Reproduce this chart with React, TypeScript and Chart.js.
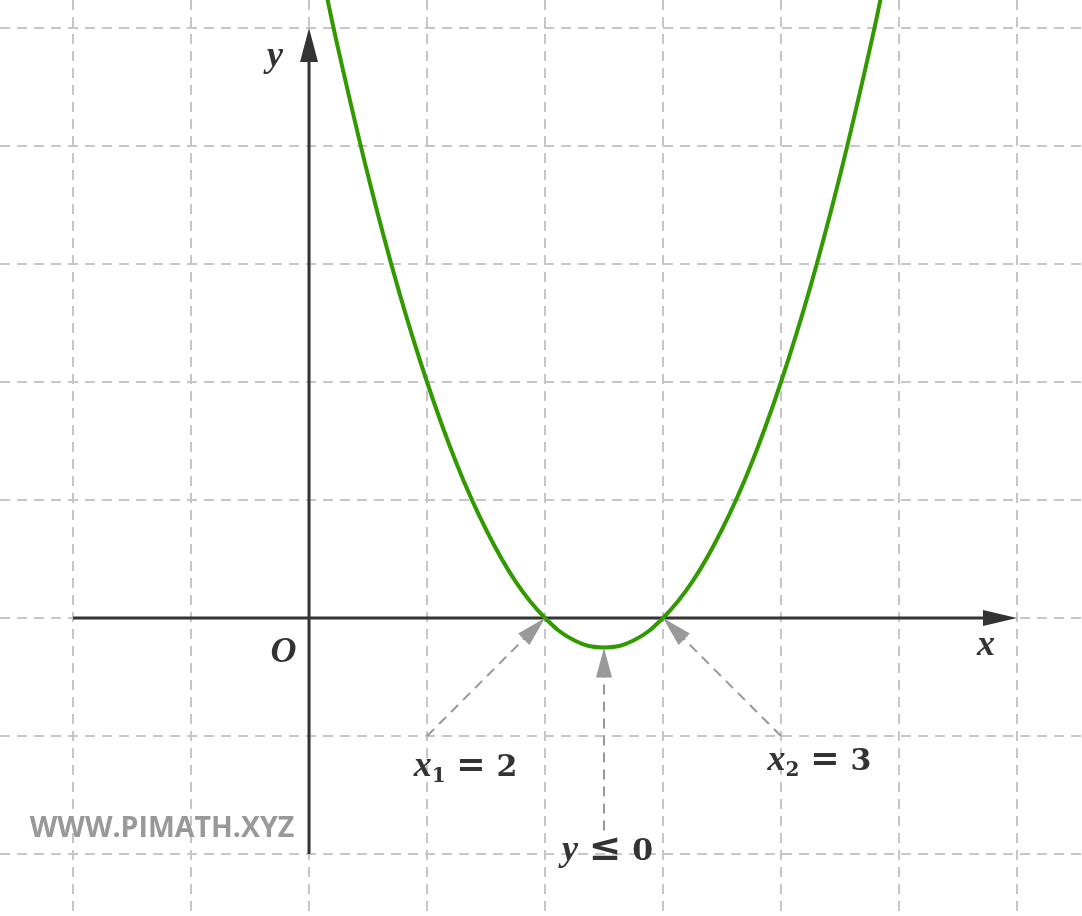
import { useEffect, useRef } from "react"
import { Chart, registerables } from "chart.js"

Chart.register(...registerables)

// parabola (roots at 2 and 3, vertex at 2.5 / -0.25)
const curveX = [0.1, 0.25, 0.5, 0.75, 1, 1.25, 1.5, 1.75, 2, 2.25, 2.5, 2.75, 3, 3.25, 3.5, 3.75, 4, 4.25, 4.5, 4.75, 4.9]
const curveY = [5.51, 4.81, 3.75, 2.81, 2, 1.31, 0.75, 0.31, 0, -0.19, -0.25, -0.19, 0, 0.31, 0.75, 1.31, 2, 2.81, 3.75, 4.81, 5.51]

// grid ticks and visible range
const gridX = [-2, -1, 0, 1, 2, 3, 4, 5, 6]
const gridY = [-2, -1, 0, 1, 2, 3, 4, 5]
const xRange = [-2.619, 6.551]
const yRange = [-2.525, 5.237]

// axes: from .. to (arrow at the end)
const xAxisSpan = [-2, 6]
const yAxisSpan = [-2, 5]

// gray pointer arrows
const arrowFromX = [1, 4, 2.5]
const arrowFromY = [-1, -1, -1.8]
const arrowToX = [2, 3, 2.5]
const arrowToY = [0, 0, -0.25]

// math labels (x is centre, y is baseline)
const labelText = ["y", "x", "O", "x₁ = 2", "x₂ = 3", "y ≤ 0"]
const labelX = [-0.288, 5.737, -0.216, 1.326, 4.326, 2.53]
const labelY = [4.678, -0.314, -0.373, -1.339, -1.288, -2.051]

const watermark = "WWW.PIMATH.XYZ"
const watermarkPos = [-1.246, -1.856]

const AXIS = "#333333"
const POINTER = "#999999"
const GREEN = "#339900"
const SUBS: Record<string, string> = { "₀": "0", "₁": "1", "₂": "2", "₃": "3" }
const SYMBOL_SCALE: Record<string, number> = { "=": 1.15, "≤": 1.3 }

function arrowHead(ctx: CanvasRenderingContext2D, tx: number, ty: number, ang: number, len: number, half: number, color: string) {
  ctx.save()
  ctx.translate(tx, ty)
  ctx.rotate(ang)
  ctx.fillStyle = color
  ctx.beginPath()
  ctx.moveTo(0, 0)
  ctx.lineTo(-len, -half)
  ctx.lineTo(-len, half)
  ctx.closePath()
  ctx.fill()
  ctx.restore()
}

function drawMath(ctx: CanvasRenderingContext2D, text: string, cx: number, by: number, size: number) {
  const parts: { t: string; font: string; dy: number; w: number }[] = []
  for (const ch of text) {
    let font = `bold ${Math.round(size * (SYMBOL_SCALE[ch] || 1))}px "DejaVu Serif"`
    let t = ch
    let dy = 0
    if (SUBS[ch]) {
      t = SUBS[ch]
      font = `bold ${Math.round(size * 0.68)}px "DejaVu Serif"`
      dy = size * 0.2
    } else if (/[a-zA-Z]/.test(ch)) {
      font = `italic bold ${Math.round(size * 1.2)}px "Liberation Serif"`
    } else if (ch === " ") {
      parts.push({ t: "", font, dy, w: size * 0.36 })
      continue
    }
    ctx.font = font
    parts.push({ t, font, dy, w: ctx.measureText(t).width })
  }
  const total = parts.reduce((s, p) => s + p.w, 0)
  let px = cx - total / 2
  ctx.fillStyle = AXIS
  ctx.textBaseline = "alphabetic"
  ctx.textAlign = "left"
  for (const p of parts) {
    if (p.t) {
      ctx.font = p.font
      ctx.fillText(p.t, px, by + p.dy)
    }
    px += p.w
  }
}

const overlayPlugin = {
  id: "overlay",
  beforeDatasetsDraw(chart: Chart) {
    const { ctx } = chart
    const sx = chart.scales.x
    const sy = chart.scales.y
    const headLen = 34
    ctx.save()
    ctx.strokeStyle = AXIS
    ctx.lineWidth = 3
    // x axis
    const y0 = sy.getPixelForValue(0)
    const xa = sx.getPixelForValue(xAxisSpan[0])
    const xb = sx.getPixelForValue(xAxisSpan[1])
    ctx.beginPath()
    ctx.moveTo(xa, y0)
    ctx.lineTo(xb - headLen + 2, y0)
    ctx.stroke()
    arrowHead(ctx, xb, y0, 0, headLen, 8, AXIS)
    // y axis
    const x0 = sx.getPixelForValue(0)
    const ya = sy.getPixelForValue(yAxisSpan[0])
    const yb = sy.getPixelForValue(yAxisSpan[1])
    ctx.beginPath()
    ctx.moveTo(x0, ya)
    ctx.lineTo(x0, yb + headLen - 2)
    ctx.stroke()
    arrowHead(ctx, x0, yb, -Math.PI / 2, headLen, 9, AXIS)
    ctx.restore()
  },
  afterDatasetsDraw(chart: Chart) {
    const { ctx } = chart
    const sx = chart.scales.x
    const sy = chart.scales.y
    ctx.save()
    // pointer arrows
    for (let i = 0; i < arrowFromX.length; i++) {
      const ax = sx.getPixelForValue(arrowFromX[i])
      const ay = sy.getPixelForValue(arrowFromY[i])
      const bx = sx.getPixelForValue(arrowToX[i])
      const by = sy.getPixelForValue(arrowToY[i])
      const ang = Math.atan2(by - ay, bx - ax)
      const len = 30
      ctx.strokeStyle = POINTER
      ctx.lineWidth = 2
      ctx.setLineDash([10, 7])
      ctx.beginPath()
      ctx.moveTo(ax, ay)
      ctx.lineTo(bx - Math.cos(ang) * (len - 2), by - Math.sin(ang) * (len - 2))
      ctx.stroke()
      ctx.setLineDash([])
      arrowHead(ctx, bx, by, ang, len, 8, POINTER)
    }
    // labels
    for (let i = 0; i < labelText.length; i++) {
      drawMath(ctx, labelText[i], sx.getPixelForValue(labelX[i]), sy.getPixelForValue(labelY[i]), 30)
    }
    // watermark
    ctx.font = 'bold 28.5px "Open Sans"'
    ctx.fillStyle = "#999999"
    ctx.textAlign = "center"
    ctx.textBaseline = "alphabetic"
    ctx.fillText(watermark, sx.getPixelForValue(watermarkPos[0]), sy.getPixelForValue(watermarkPos[1]))
    ctx.restore()
  },
}

export default function App() {
  const canvasRef = useRef<HTMLCanvasElement>(null)

  useEffect(() => {
    if (!canvasRef.current) return
    const grid = { color: "#c6c6c6", lineWidth: 2, drawTicks: false }
    const border = { display: false, dash: [10, 7] }
    const chart = new Chart(canvasRef.current, {
      type: "line",
      data: {
        datasets: [
          {
            data: curveX.map((x, i) => ({ x, y: curveY[i] })),
            borderColor: GREEN,
            borderWidth: 4,
            pointRadius: 0,
            tension: 0.4,
            fill: false,
          },
        ],
      },
      options: {
        animation: false,
        responsive: true,
        maintainAspectRatio: false,
        layout: { padding: 0 },
        plugins: { legend: { display: false }, tooltip: { enabled: false } },
        scales: {
          x: {
            type: "linear",
            min: xRange[0],
            max: xRange[1],
            grid,
            border,
            ticks: { display: false },
            afterBuildTicks: (scale: any) => {
              scale.ticks = gridX.map((value) => ({ value }))
            },
          },
          y: {
            type: "linear",
            min: yRange[0],
            max: yRange[1],
            grid,
            border,
            ticks: { display: false },
            afterBuildTicks: (scale: any) => {
              scale.ticks = gridY.map((value) => ({ value }))
            },
          },
        },
      },
      plugins: [overlayPlugin],
    })
    return () => chart.destroy()
  }, [])

  return (
    <div style={{ position: "fixed", left: 0, top: 0, width: 1082, height: 916, background: "#ffffff" }}>
      <canvas ref={canvasRef} />
    </div>
  )
}
